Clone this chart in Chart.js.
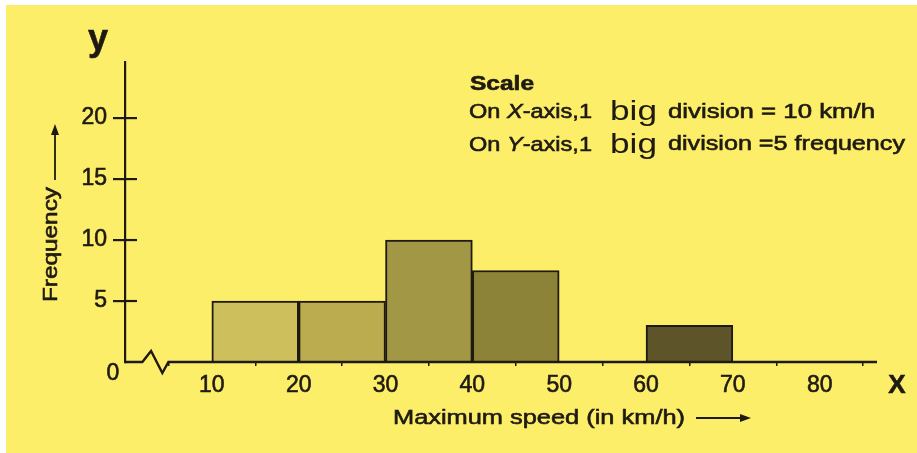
<!DOCTYPE html>
<html><head><meta charset="utf-8">
<script src="https://cdn.jsdelivr.net/npm/chart.js@4.4.1/dist/chart.umd.min.js"></script>
<style>
html,body{margin:0;padding:0;background:#fff;overflow:hidden;}
canvas{display:block;}
</style></head><body>
<canvas id="c" width="917" height="453"></canvas>
<script>
// ---- data ----
const classStarts = [10, 20, 30, 40, 60];
const classEnds = [20, 30, 40, 50, 70];
const frequencies = [5, 5, 10, 7.5, 3];
const xTickValues = [10, 20, 30, 40, 50, 60, 70, 80];
const yTickValues = [5, 10, 15, 20];
const barColors = ['#CDBF5C', '#BBAC50', '#A29744', '#8C8238', '#5D5529'];

const INK = '#1e1a12';
const FONT = '"Liberation Sans", Arial, Helvetica, sans-serif';
const STROKE = 0.6;

const barData = classStarts.map((s, i) => ({ x: (s + classEnds[i]) / 2, y: frequencies[i] }));

function put(ctx, text, x, y) {
  ctx.fillText(text, x, y);
  ctx.strokeText(text, x, y);
}
function drawScaled(ctx, text, x, y, font, width) {
  ctx.save();
  ctx.font = font;
  const w = ctx.measureText(text).width;
  ctx.translate(x, y);
  ctx.scale(width / w, 1);
  ctx.textAlign = 'left';
  put(ctx, text, 0, 0);
  ctx.restore();
}
function drawSegments(ctx, segs, x, y, width) {
  ctx.save();
  let total = 0;
  segs.forEach(s => { ctx.font = s.font; s.w = ctx.measureText(s.text).width; total += s.w; });
  const k = width / total;
  ctx.translate(x, y);
  ctx.scale(k, 1);
  ctx.textAlign = 'left';
  let cx = 0;
  segs.forEach(s => { ctx.font = s.font; put(ctx, s.text, cx, 0); cx += s.w; });
  ctx.restore();
}
function arrowH(ctx, x1, x2, y) {
  ctx.save();
  ctx.strokeStyle = INK; ctx.fillStyle = INK; ctx.lineWidth = 1.8;
  ctx.beginPath(); ctx.moveTo(x1, y); ctx.lineTo(x2 - 8, y); ctx.stroke();
  ctx.beginPath(); ctx.moveTo(x2, y); ctx.lineTo(x2 - 11, y - 4); ctx.lineTo(x2 - 11, y + 4); ctx.closePath(); ctx.fill();
  ctx.restore();
}
function arrowUp(ctx, x, y1, y2) {
  ctx.save();
  ctx.strokeStyle = INK; ctx.fillStyle = INK; ctx.lineWidth = 1.8;
  ctx.beginPath(); ctx.moveTo(x, y1); ctx.lineTo(x, y2 + 8); ctx.stroke();
  ctx.beginPath(); ctx.moveTo(x, y2); ctx.lineTo(x - 4, y2 + 11); ctx.lineTo(x + 4, y2 + 11); ctx.closePath(); ctx.fill();
  ctx.restore();
}

const decor = {
  id: 'decor',
  beforeDraw(chart) {
    const ctx = chart.ctx;
    ctx.save();
    ctx.fillStyle = '#ffffff';
    ctx.fillRect(0, 0, chart.width, chart.height);
    ctx.fillStyle = '#FDEE6A';
    ctx.fillRect(6, 5, chart.width - 6, chart.height - 5);
    ctx.restore();
  },
  afterDatasetsDraw(chart) {
    const ctx = chart.ctx;
    const xs = chart.scales.x, ys = chart.scales.y;
    const y0 = ys.getPixelForValue(0);
    const xl = chart.chartArea.left, xr = chart.chartArea.right;
    ctx.save();
    ctx.strokeStyle = INK; ctx.lineWidth = 2.4; ctx.lineJoin = 'miter';
    // x axis with break symbol
    ctx.beginPath();
    ctx.moveTo(xl, y0);
    ctx.lineTo(xs.getPixelForValue(2.0), y0);
    ctx.lineTo(xs.getPixelForValue(3.0), y0 - 11);
    ctx.lineTo(xs.getPixelForValue(4.3), y0 + 11);
    ctx.lineTo(xs.getPixelForValue(5.0), y0);
    ctx.lineTo(xr, y0);
    ctx.stroke();
    // right half of y ticks
    ctx.lineWidth = 2.2;
    yTickValues.forEach(v => {
      const p = ys.getPixelForValue(v);
      ctx.beginPath(); ctx.moveTo(xl, p); ctx.lineTo(xl + 12, p); ctx.stroke();
    });
    ctx.restore();

    ctx.save();
    ctx.fillStyle = INK;
    ctx.strokeStyle = INK;
    ctx.lineWidth = STROKE;
    ctx.textBaseline = 'alphabetic';
    // origin 0
    ctx.font = '23px ' + FONT; ctx.textAlign = 'center';
    put(ctx, '0', xl - 12, y0 + 18);
    // axis letters
    ctx.font = 'bold 36px ' + FONT; ctx.textAlign = 'center';
    put(ctx, 'y', 98, 50);
    ctx.font = 'bold 26px ' + FONT;
    put(ctx, 'X', 897, 393);
    // x title
    drawScaled(ctx, 'Maximum speed (in km/h)', 393, 424, '21px ' + FONT, 292);
    arrowH(ctx, 696, 751, 418);
    // y title (rotated)
    ctx.save();
    ctx.translate(57, 302);
    ctx.rotate(-Math.PI / 2);
    drawScaled(ctx, 'Frequency', 0, 0, '20px ' + FONT, 115);
    ctx.restore();
    arrowUp(ctx, 55, 180, 124);
    // scale note
    drawScaled(ctx, 'Scale', 470, 90, 'bold 20px ' + FONT, 64);
    const reg = '20px ' + FONT, ital = 'italic 20px ' + FONT, big = '27px ' + FONT;
    drawSegments(ctx, [{text: 'On ', font: reg}, {text: 'X', font: ital}, {text: '-axis,1', font: reg}], 469, 118, 123);
    ctx.lineWidth = 0;
    ctx.save(); ctx.lineWidth = 0.01; drawScaled(ctx, 'big', 610, 120, big, 47); ctx.restore();
    ctx.lineWidth = STROKE;
    drawScaled(ctx, 'division = 10 km/h', 668, 118, reg, 207);
    drawSegments(ctx, [{text: 'On ', font: reg}, {text: 'Y', font: ital}, {text: '-axis,1', font: reg}], 469, 151, 123);
    ctx.save(); ctx.lineWidth = 0.01; drawScaled(ctx, 'big', 610, 153, big, 47); ctx.restore();
    drawScaled(ctx, 'division =5 frequency', 668, 150, reg, 237);
    ctx.restore();
  }
};

new Chart(document.getElementById('c'), {
  type: 'bar',
  data: {
    datasets: [{
      data: barData,
      backgroundColor: barColors,
      borderColor: INK,
      borderWidth: 2,
      borderSkipped: 'start',
      barPercentage: 1,
      categoryPercentage: 1
    }]
  },
  options: {
    responsive: false,
    animation: false,
    devicePixelRatio: 1,
    layout: { padding: { left: 0, top: 62, right: 40, bottom: 0 } },
    plugins: { legend: { display: false }, tooltip: { enabled: false } },
    scales: {
      x: {
        type: 'linear', min: 0, max: 86.6, offset: false,
        afterBuildTicks: s => { s.ticks = xTickValues.map(v => ({ value: v })); },
        afterFit: s => { s.height = 91; },
        grid: { drawOnChartArea: false, drawTicks: true, tickLength: 4, color: INK, lineWidth: 1.5 },
        border: { display: false },
        ticks: { font: { family: FONT, size: 23 }, color: INK, padding: 6, maxRotation: 0, autoSkip: false,
                 textStrokeColor: INK, textStrokeWidth: STROKE }
      },
      y: {
        type: 'linear', min: 0, max: 24.6,
        afterBuildTicks: s => { s.ticks = yTickValues.map(v => ({ value: v })); },
        afterFit: s => { s.width = 125; },
        grid: { drawOnChartArea: false, drawTicks: true, tickLength: 12, color: INK, lineWidth: 2.2 },
        border: { display: true, color: INK, width: 2.2 },
        ticks: { font: { family: FONT, size: 23 }, color: INK, padding: 6,
                 textStrokeColor: INK, textStrokeWidth: STROKE }
      }
    }
  },
  plugins: [decor]
});
</script>
</body></html>
